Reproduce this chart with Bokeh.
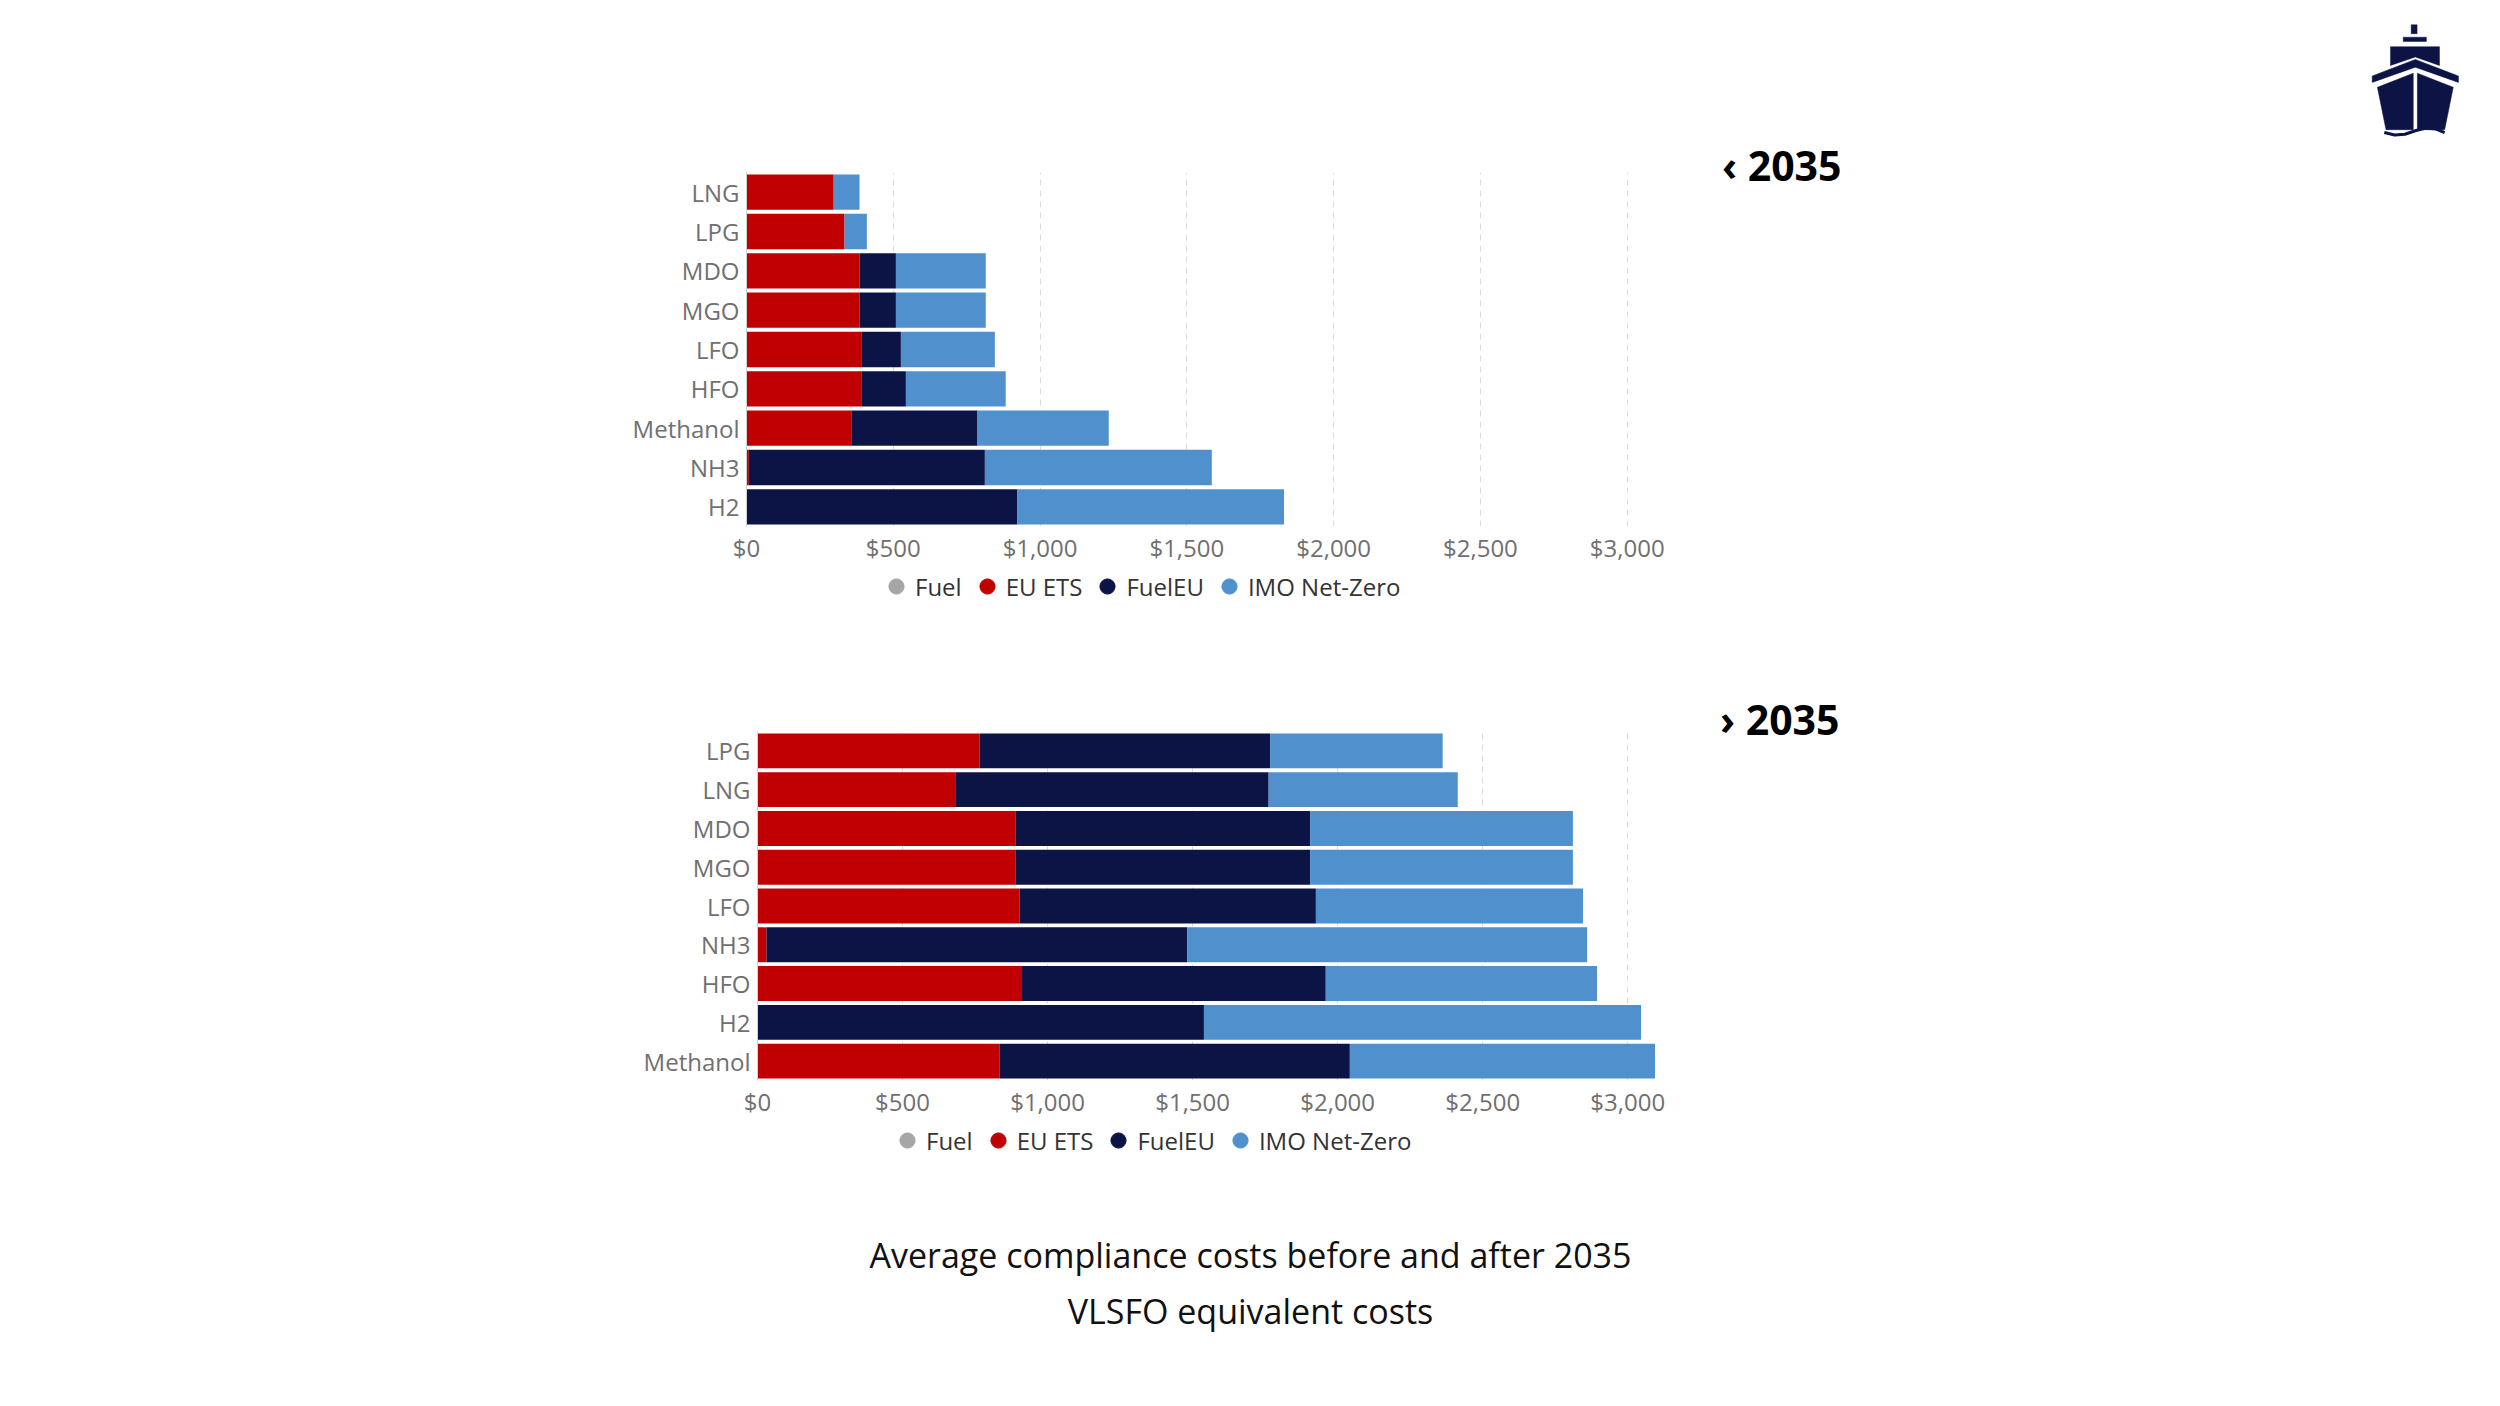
from bokeh.plotting import figure
from bokeh.models import (ColumnDataSource, FactorRange, Range1d, FixedTicker,
                          NumeralTickFormatter, Legend, LegendItem, Label)
from bokeh.layouts import column
from bokeh.embed import file_html
from bokeh.resources import INLINE

# ---------------- data ----------------
cats_before = ["LNG", "LPG", "MDO", "MGO", "LFO", "HFO", "Methanol", "NH3", "H2"]
fuel_before = [0, 0, 0, 0, 0, 0, 0, 0, 0]
eu_ets_before = [297, 334, 385, 385, 391, 393, 357, 8, 0]
fueleu_before = [0, 0, 124, 124, 135, 150, 430, 804, 923]
imo_before = [88, 76, 306, 306, 320, 340, 447, 773, 908]

cats_after = ["LPG", "LNG", "MDO", "MGO", "LFO", "NH3", "HFO", "H2", "Methanol"]
fuel_after = [0, 0, 0, 0, 0, 0, 0, 0, 0]
eu_ets_after = [766, 684, 889, 889, 904, 31, 912, 0, 835]
fueleu_after = [1001, 1078, 1016, 1016, 1021, 1450, 1047, 1539, 1207]
imo_after = [595, 652, 906, 906, 921, 1379, 935, 1507, 1052]

series_names = ["Fuel", "EU ETS", "FuelEU", "IMO Net-Zero"]
series_colors = ["#A6A6A6", "#C00000", "#0C1445", "#5090CD"]
x_ticks = [0, 500, 1000, 1500, 2000, 2500, 3000]
grid_ticks = [500, 1000, 1500, 2000, 2500, 3000]
titles = ["\u2039 2035", "\u203a 2035"]
caption_lines = ["Average compliance costs before and after 2035", "VLSFO equivalent costs"]

FONT = "Open Sans"
W = 2484
XMAX = 3730
NAVY = "#0C1445"


def blank(height):
    f = figure(width=W, height=height, x_range=Range1d(0, W), y_range=Range1d(height, 0),
               x_axis_location=None, y_axis_location=None,
               output_backend="svg", toolbar_location=None, min_border=0,
               frame_align=False)
    f.grid.visible = False
    f.outline_line_color = None
    f.background_fill_color = "white"
    f.border_fill_color = "white"
    return f


def chart(cats, fuel, ets, feu, imo, title, b_top, b_left, b_right, frame_h,
          b_bottom, title_standoff):
    src = ColumnDataSource(dict(cat=cats, fuel=fuel, ets=ets, feu=feu, imo=imo))
    p = figure(width=W, height=b_top + frame_h + b_bottom,
               y_range=FactorRange(factors=cats[::-1]),
               x_range=Range1d(0, XMAX),
               output_backend="svg", toolbar_location=None,
               min_border_left=b_left, min_border_right=b_right,
               min_border_top=b_top, min_border_bottom=b_bottom,
               frame_align=False)
    p.hbar_stack(["fuel", "ets", "feu", "imo"], y="cat", height=0.9,
                 color=series_colors, line_color=None, source=src)

    p.title.text = title
    p.title.align = "right"
    p.title.vertical_align = "bottom"
    p.title.standoff = title_standoff
    p.title.text_font = FONT
    p.title.text_font_size = "41px"
    p.title.text_font_style = "bold"
    p.title.text_color = "#000000"

    p.outline_line_color = None
    p.background_fill_color = "white"
    p.border_fill_color = "white"

    p.xaxis.ticker = FixedTicker(ticks=x_ticks)
    p.xaxis.formatter = NumeralTickFormatter(format="$0,0")
    p.xaxis.axis_line_color = None
    p.xaxis.major_tick_line_color = None
    p.xaxis.minor_tick_line_color = None
    p.xaxis.major_tick_out = 0
    p.xaxis.major_label_standoff = 4
    p.xaxis.major_label_text_font = FONT
    p.xaxis.major_label_text_font_size = "24px"
    p.xaxis.major_label_text_color = "#707070"

    p.yaxis.axis_line_color = "#cfcfcf"
    p.yaxis.major_tick_line_color = None
    p.yaxis.minor_tick_line_color = None
    p.yaxis.major_tick_out = 0
    p.yaxis.major_label_standoff = 7
    p.yaxis.major_label_text_font = FONT
    p.yaxis.major_label_text_font_size = "24px"
    p.yaxis.major_label_text_color = "#707070"

    p.xgrid.ticker = FixedTicker(ticks=grid_ticks)
    p.xgrid.grid_line_color = "#dcdcdc"
    p.xgrid.grid_line_dash = "6 5"
    p.ygrid.grid_line_color = None
    return p


def add_legend(f, x, y):
    items = []
    for name, c in zip(series_names, series_colors):
        r = f.scatter(x=[float("nan")], y=[float("nan")], marker="circle", size=16,
                      fill_color=c, line_color=c)
        items.append(LegendItem(label=name, renderers=[r]))
    leg = Legend(items=items, orientation="horizontal", location=(x, y),
                 glyph_width=38, glyph_height=38, label_standoff=0, spacing=6,
                 padding=0, margin=0, border_line_color=None,
                 background_fill_alpha=0, label_text_font=FONT,
                 label_text_font_size="24px", label_text_color="#333333")
    f.add_layout(leg, "center")


# ---------------- header: ship icon ----------------
HEADER_H = 138
header = blank(HEADER_H)


def tx(pts):
    return [2370 + a / 2.9 for a, b in pts], [12 + b * 0.353 for a, b in pts]


shapes = [
    [(118, 35), (135, 35), (135, 60), (118, 60)],
    [(95, 70), (162, 70), (162, 82), (95, 82)],
    [(58, 97), (200, 97), (200, 150), (130, 126), (58, 150)],
    [(5, 180), (130, 133), (255, 180), (255, 198), (130, 155), (5, 198)],
    [(20, 212), (124, 172), (124, 332), (45, 332)],
    [(136, 172), (240, 212), (215, 332), (136, 332)],
]
xs, ys = [], []
for s in shapes:
    a, b = tx(s)
    xs.append(a)
    ys.append(b)
header.patches(xs, ys, fill_color=NAVY, line_color=NAVY, line_width=0.5)
wx, wy = tx([(40, 340), (70, 347), (100, 345), (130, 335), (160, 327), (190, 330), (215, 340)])
header.line(wx, wy, line_color=NAVY, line_width=3)

# ---------------- charts ----------------
TOP_BT = 172 - HEADER_H
top = chart(cats_before, fuel_before, eu_ets_before, fueleu_before, imo_before,
            titles[0], TOP_BT, 746, W - 1841, 354, 41, -40)

MID_H = 114
middle = blank(MID_H)
add_legend(middle, 877, MID_H - 38.4)

bottom = chart(cats_after, fuel_after, eu_ets_after, fueleu_after, imo_after,
               titles[1], 50, 757, W - 1839, 351, 38, -30)

used = HEADER_H + (TOP_BT + 354 + 41) + MID_H + (50 + 351 + 38)
FOOT_H = 1386 - used
footer = blank(FOOT_H)
add_legend(footer, 888, FOOT_H - 39.4)
for txt, yy in zip(caption_lines, [134, 190]):
    footer.add_layout(Label(x=1250, y=yy, text=txt, text_align="center",
                            text_baseline="middle", text_font=FONT,
                            text_font_size="34px", text_color="#111111"))

layout = column(header, top, middle, bottom, footer, spacing=0)
open("out.html", "w").write(file_html(layout, INLINE))
